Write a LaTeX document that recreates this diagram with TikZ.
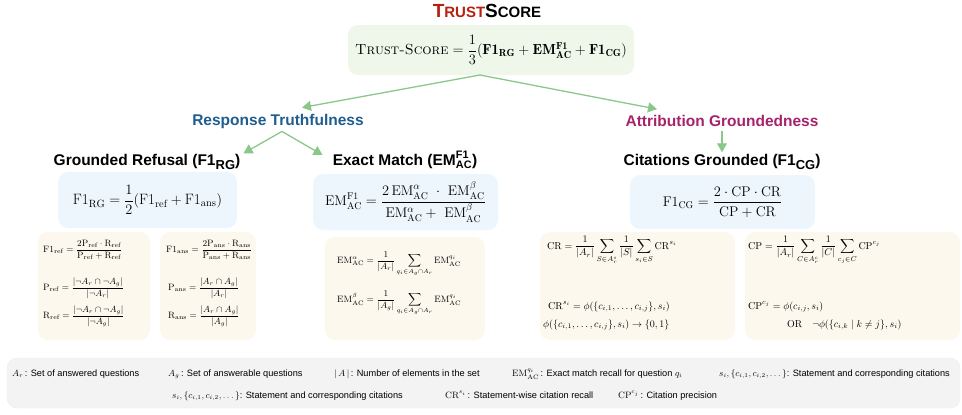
\documentclass[tikz,border=0pt]{standalone}
\usepackage{amsmath}
\usepackage{fontspec}
\setsansfont{Liberation Sans}
\usetikzlibrary{arrows.meta,positioning}

\definecolor{linkgreen}{HTML}{8CC78A}
\definecolor{scorefill}{HTML}{EEF7E9}
\definecolor{evalfill}{HTML}{EEF6FD}
\definecolor{deffill}{HTML}{FDF8EE}
\definecolor{keyfill}{HTML}{F3F3F3}
\definecolor{truthblue}{HTML}{1F5D8F}
\definecolor{attrpink}{HTML}{A6226B}
\definecolor{trustred}{HTML}{B8200E}

\newcommand{\emac}[1]{\mathrm{EM}^{#1}_{\mathrm{AC}}}
\newcommand{\rmsub}[2]{\mathrm{#1}_{\mathrm{#2}}}

\tikzset{
panel/.style={
  rectangle,
  rounded corners=10pt,
  draw=none,
  inner sep=0pt,
},
scorebox/.style={panel, fill=scorefill},
evalbox/.style={panel, fill=evalfill},
defbox/.style={panel, fill=deffill},
keybox/.style={panel, fill=keyfill, draw=black!7},
label/.style={
  rectangle,
  draw=none,
  text centered,
  inner sep=0em,
},
branch/.style={label, font=\sffamily\bfseries\fontsize{15.5}{17}\selectfont},
metric/.style={label, font=\sffamily\bfseries\fontsize{15.5}{17}\selectfont},
bigeq/.style={label, font=\fontsize{14}{16}\selectfont},
smalleq/.style={label, anchor=west, font=\fontsize{9.2}{11}\selectfont},
midleq/.style={label, anchor=west, font=\fontsize{10}{12}\selectfont},
key/.style={label, anchor=base west, font=\sffamily\fontsize{9.2}{11}\selectfont},
link/.style={->, draw=linkgreen, line width=1.3pt},
}

\begin{document}
\begin{tikzpicture}[x=1pt, y=-1pt, >={Triangle[length=9pt,width=10pt]}]
\useasboundingbox (0,0) rectangle (962,415);

%title and overall score
\node[label, font=\sffamily\bfseries](title) at (487,11)
  {\fontsize{19}{19}\selectfont\textcolor{trustred}{T\fontsize{15}{15}\selectfont RUST}\fontsize{19}{19}\selectfont S\fontsize{15}{15}\selectfont CORE};
\node[scorebox, minimum width=286pt, minimum height=50pt](score) at (491,50){};
\node[bigeq, font=\fontsize{14.6}{16}\selectfont](scoreeq) at (score.center)
  {$\textsc{Trust-Score} = \dfrac{1}{3}(\mathbf{F1_{RG}} + \mathbf{EM^{F1}_{AC}} + \mathbf{F1_{CG}})$};

%branches
\node[branch, text=truthblue](truth) at (278,121) {Response Truthfulness};
\node[branch, text=attrpink](attr) at (722,121) {Attribution Groundedness};

%metric headings
\node[metric](rghead) at (147,162) {Grounded Refusal (F1\raisebox{-0.45ex}{\fontsize{13}{13}\selectfont RG})};
\node[metric](emhead) at (405,160) {Exact Match ($\text{EM}^{\text{F1}}_{\text{AC}}$)};
\node[metric](cghead) at (722,162) {Citations Grounded (F1\raisebox{-0.45ex}{\fontsize{13}{13}\selectfont CG})};

%metric boxes
\node[evalbox, minimum width=179pt, minimum height=56pt](rgbox) at (147.5,200){};
\node[bigeq, font=\fontsize{15}{17}\selectfont](rgeq) at (rgbox.center)
  {$\rmsub{F1}{RG} = \dfrac{1}{2}(\rmsub{F1}{ref} + \rmsub{F1}{ans})$};
\node[evalbox, minimum width=185pt, minimum height=56pt](embox) at (405.5,202){};
\node[bigeq](emeq) at (embox.center)
  {$\emac{\mathrm{F1}} = \dfrac{2\,\emac{\alpha}\ \cdot\ \emac{\beta}}{\emac{\alpha} +\ \emac{\beta}}$};
\node[evalbox, minimum width=185pt, minimum height=54pt](cgbox) at (722.5,202){};
\node[bigeq](cgeq) at (cgbox.center)
  {$\rmsub{F1}{CG} = \dfrac{2\cdot\mathrm{CP}\cdot\mathrm{CR}}{\mathrm{CP}+\mathrm{CR}}$};

%definition boxes
\node[defbox, minimum width=112pt, minimum height=108pt](refbox) at (94,286){};
\node[defbox, minimum width=96pt, minimum height=108pt](ansbox) at (208,286){};
\node[defbox, minimum width=160pt, minimum height=103pt](acbox) at (405,288.5){};
\node[defbox, minimum width=195pt, minimum height=108pt](crbox) at (637.5,286){};
\node[defbox, minimum width=215pt, minimum height=108pt](cpbox) at (852.5,286){};

\node[smalleq](f1ref) at (43,250)
  {$\rmsub{F1}{ref} = \dfrac{2\rmsub{P}{ref}\cdot\rmsub{R}{ref}}{\rmsub{P}{ref}+\rmsub{R}{ref}}$};
\node[smalleq](pref) at (43,288)
  {$\rmsub{P}{ref} = \dfrac{|\neg A_r\cap\neg A_g|}{|\neg A_r|}$};
\node[smalleq](rref) at (43,316)
  {$\rmsub{R}{ref} = \dfrac{|\neg A_r\cap\neg A_g|}{|\neg A_g|}$};
\node[smalleq](f1ans) at (166,250)
  {$\rmsub{F1}{ans} = \dfrac{2\rmsub{P}{ans}\cdot\rmsub{R}{ans}}{\rmsub{P}{ans}+\rmsub{R}{ans}}$};
\node[smalleq](pans) at (168,288)
  {$\rmsub{P}{ans} = \dfrac{|A_r\cap A_g|}{|A_r|}$};
\node[smalleq](rans) at (168,316)
  {$\rmsub{R}{ans} = \dfrac{|A_r\cap A_g|}{|A_g|}$};

\node[smalleq](emalpha) at (337,264)
  {$\emac{\alpha} = \dfrac{1}{|A_r|}\displaystyle\sum_{q_i\in A_g\cap A_r}\emac{q_i}$};
\node[smalleq](embeta) at (337,303)
  {$\emac{\beta} = \dfrac{1}{|A_g|}\displaystyle\sum_{q_i\in A_g\cap A_r}\emac{q_i}$};

\node[midleq](cr) at (547,250)
  {$\mathrm{CR} = \dfrac{1}{|A_r|}\displaystyle\sum_{S\in A_r^s}\dfrac{1}{|S|}\sum_{s_i\in S}\mathrm{CR}^{s_i}$};
\node[midleq](crs) at (548,307)
  {$\mathrm{CR}^{s_i} = \phi(\{c_{i,1},\dots,c_{i,j}\},s_i)$};
\node[midleq](phi) at (543,325)
  {$\phi(\{c_{i,1},\dots,c_{i,j}\},s_i)\to\{0,1\}$};
\node[midleq](cp) at (748,250)
  {$\mathrm{CP} = \dfrac{1}{|A_r|}\displaystyle\sum_{C\in A_r^c}\dfrac{1}{|C|}\sum_{c_j\in C}\mathrm{CP}^{c_j}$};
\node[midleq](cpc) at (748,307)
  {$\mathrm{CP}^{c_j} = \phi(c_{i,j},s_i)$};
\node[midleq](cpor) at (787,325)
  {$\mathrm{OR}\quad\neg\phi(\{c_{i,k}\mid k\neq j\},s_i)$};

%legend
\node[keybox, minimum width=953pt, minimum height=50pt](legend) at (483.5,383){};
\node[key](kar) at (12,376) {$A_r$\,: Set of answered questions};
\node[key](kag) at (168,376) {$A_g$\,: Set of answerable questions};
\node[key](ksize) at (334,376) {$|\,A\,|$\,: Number of elements in the set};
\node[key](kem) at (512,376) {$\emac{q_i}$\,: Exact match recall for question $q_i$};
\node[key](kst) at (719,376) {$s_i,\{c_{i,1},c_{i,2},\dots\}$: Statement and corresponding citations};
\node[key](kst2) at (172,398) {$s_i,\{c_{i,1},c_{i,2},\dots\}$: Statement and corresponding citations};
\node[key](kcr) at (445,398) {$\mathrm{CR}^{s_i}$\,: Statement-wise citation recall};
\node[key](kcp) at (618,398) {$\mathrm{CP}^{c_j}$\,: Citation precision};

%connectors
\coordinate (split) at (480,75);
\draw[link] (split) -- ([xshift=24pt,yshift=6pt]truth.north);
\draw[link] (split) -- ([xshift=-65pt,yshift=6pt]attr.north);
\draw[link] ([xshift=4pt,yshift=-3pt]truth.south) -- ([xshift=3pt,yshift=1pt]rghead.north east);
\draw[link] ([xshift=4pt,yshift=-3pt]truth.south) -- ([xshift=-10pt,yshift=-4pt]emhead.north west);
\draw[link] ([yshift=-4pt]attr.south) -- ([yshift=2pt]cghead.north);

\end{tikzpicture}
\end{document}
